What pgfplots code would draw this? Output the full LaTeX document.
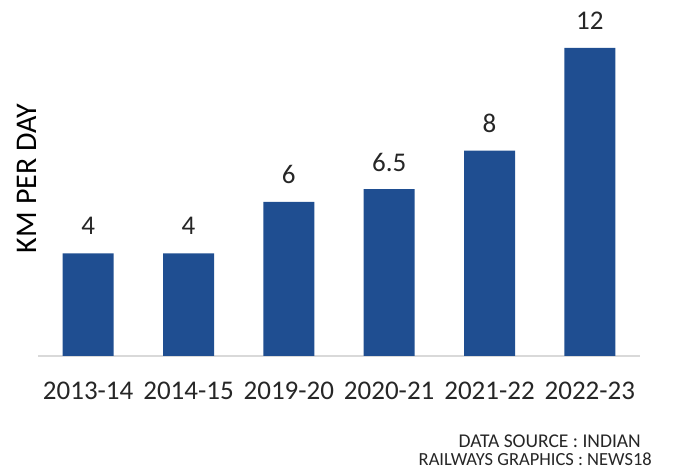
\documentclass[border=0pt]{standalone}
\usepackage{pgfplots}
\pgfplotsset{compat=1.18}
\usepackage{fontspec}
\setmainfont{Carlito}
\definecolor{barblue}{RGB}{31,78,145}
\definecolor{txt}{RGB}{38,38,38}
\begin{document}
\begin{tikzpicture}[x=1pt,y=1pt]
\useasboundingbox (0,0) rectangle (682,476);
\begin{axis}[
  at={(38pt,120pt)}, anchor=south west,
  scale only axis,
  width=602pt, height=333.7pt,
  xmin=-0.5, xmax=5.5, ymin=0, ymax=13,
  axis x line*=bottom,
  hide y axis,
  axis line style={draw=black!15, line width=1.2pt},
  x axis line style={-},
  xtick=data,
  xticklabels={2013-14,2014-15,2019-20,2020-21,2021-22,2022-23},
  major tick length=0pt,
  xticklabel style={anchor=center, yshift=-34.5pt, font=\fontsize{27}{30}\selectfont, text=txt},
  ybar, bar width=51pt,
  clip=false,
  nodes near coords,
  every node near coord/.append style={anchor=center, yshift=27pt, font=\fontsize{27}{30}\selectfont, text=txt},
  point meta=explicit symbolic,
]
\addplot[fill=barblue, draw=none] coordinates {
  (0,4) [4] (1,4) [4] (2,6) [6] (3,6.5) [6.5] (4,8) [8] (5,12) [12]
};
\end{axis}
\node[rotate=90, anchor=center, text=black, font=\fontsize{30}{33}\selectfont] at (27,297.5) {KM PER DAY};
\node[anchor=base east, text=txt, font=\fontsize{19.5}{21}\selectfont, inner sep=0pt] at (641,28) {DATA SOURCE : INDIAN};
\node[anchor=base east, text=txt, font=\fontsize{18.5}{20}\selectfont, inner sep=0pt] at (652,10) {RAILWAYS GRAPHICS : NEWS18};
\end{tikzpicture}
\end{document}
